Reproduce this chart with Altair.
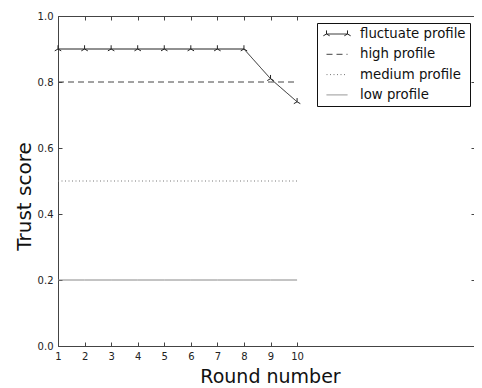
import altair as alt
import pandas as pd

rounds = [1, 2, 3, 4, 5, 6, 7, 8, 9, 10]
fluctuate = [0.9, 0.9, 0.9, 0.9, 0.9, 0.9, 0.9, 0.9, 0.81, 0.74]
high = [0.8, 0.8, 0.8, 0.8, 0.8, 0.8, 0.8, 0.8, 0.8, 0.8]
medium = [0.5, 0.5, 0.5, 0.5, 0.5, 0.5, 0.5, 0.5, 0.5, 0.5]
low = [0.2, 0.2, 0.2, 0.2, 0.2, 0.2, 0.2, 0.2, 0.2, 0.2]
series_names = ["fluctuate profile", "high profile", "medium profile", "low profile"]
x_ticks = [1, 2, 3, 4, 5, 6, 7, 8, 9, 10]
y_ticks = [0.0, 0.2, 0.4, 0.6, 0.8, 1.0]

rows = []
for name, vals in zip(series_names, [fluctuate, high, medium, low]):
    for r, v in zip(rounds, vals):
        rows.append({"round": r, "score": v, "series": name})
df = pd.DataFrame(rows)
df_f = df[df["series"] == "fluctuate profile"]

FONT = "DejaVu Sans"
AX = "#444444"

# x axis runs past round 10 (to the right edge of the picture)
xscale = alt.Scale(domain=[1, 16.66], nice=False, zero=False)
yscale = alt.Scale(domain=[0, 1], nice=False, zero=False)

tri = "M0,0L0,-1M0,0L-0.866,0.5M0,0L0.866,0.5"
end_markers = ("M-1,0L-1,-0.34M-1,0L-1.3,0.17M-1,0L-0.7,0.17"
               "M1,0L1,-0.34M1,0L0.7,0.17M1,0L1.3,0.17")

LEG = dict(title=None, orient="none", legendX=259, legendY=7, padding=4,
           cornerRadius=0, symbolSize=441, symbolStrokeWidth=1, symbolOffset=5,
           labelFont=FONT, labelFontSize=13.3, labelColor="#111111",
           labelOffset=12, clipHeight=14, rowPadding=6.3)

legend_main = alt.Legend(strokeColor="#111111", fillColor="white",
                         symbolType="stroke", **LEG)
legend_marks = alt.Legend(symbolType=end_markers, symbolStrokeColor="#222222",
                          symbolFillColor="transparent", labelOpacity=0, **LEG)


def tick_axis(**kw):
    base = dict(grid=False, labels=False, title=None, domain=False,
                tickColor=AX, tickWidth=1)
    base.update(kw)
    return alt.Axis(**base)


lines = alt.Chart(df).mark_line(strokeWidth=1).encode(
    x=alt.X("round:Q", scale=xscale, axis=alt.Axis(
        orient="bottom", values=x_ticks, format="d", title="Round number",
        grid=False, domain=True, domainColor=AX, ticks=False,
        labelPadding=5, labelFlush=False, labelFont=FONT,
        labelFontSize=10, labelColor="#222222", titleFont=FONT, titleFontSize=19,
        titleFontWeight="normal", titleColor="#111111", titleX=212, titleY=36,
        titleBaseline="alphabetic")),
    y=alt.Y("score:Q", scale=yscale, axis=alt.Axis(
        orient="left", values=y_ticks, format=".1f", title="Trust score",
        grid=False, domain=True, domainColor=AX, ticks=False,
        labelPadding=5, labelFont=FONT, labelFontSize=10,
        labelColor="#222222", titleFont=FONT, titleFontSize=20,
        titleFontWeight="normal", titleColor="#111111", titleX=-28, titleY=180,
        titleAngle=270, titleBaseline="alphabetic")),
    color=alt.Color("series:N", scale=alt.Scale(
        domain=series_names, range=["#222222", "#444444", "#777777", "#888888"]),
        legend=legend_main),
    strokeDash=alt.StrokeDash("series:N", scale=alt.Scale(
        domain=series_names, range=[[1, 0], [6, 4], [1, 2.5], [1, 0]]),
        legend=legend_main),
)

pts = alt.Chart(df_f).mark_point(
    shape=tri, filled=False, size=56, stroke="#222222", strokeWidth=1
).encode(
    x=alt.X("round:Q", scale=xscale, axis=tick_axis(
        orient="bottom", values=x_ticks, offset=-4, tickSize=4)),
    y=alt.Y("score:Q", scale=yscale, axis=tick_axis(
        orient="left", values=y_ticks, offset=-4, tickSize=4)),
    opacity=alt.Opacity("series:N", scale=alt.Scale(
        domain=["fluctuate profile"], range=[1]), legend=legend_marks),
)

frame_top = alt.Chart(df_f).mark_point(opacity=0).encode(
    x=alt.X("round:Q", scale=xscale, axis=tick_axis(
        orient="top", values=x_ticks, domain=True, domainColor=AX, ticks=False)),
    y=alt.Y("score:Q", scale=yscale, axis=tick_axis(
        orient="right", values=y_ticks, offset=-3, tickSize=3)),
)

ticks_top = alt.Chart(df_f).mark_point(opacity=0).encode(
    x=alt.X("round:Q", scale=xscale, axis=tick_axis(
        orient="top", values=x_ticks, offset=-4, tickSize=4)),
    y=alt.Y("score:Q", scale=yscale, axis=None),
)

chart = alt.layer(lines, pts, frame_top, ticks_top).resolve_axis(
    x="independent", y="independent"
).properties(
    width=416, height=330,
    padding={"left": 50, "top": 8, "right": 0, "bottom": 40},
    autosize=alt.AutoSizeParams(type="none"),
).configure_view(stroke=None)

chart.save("out.html", embed_options={"renderer": "svg", "actions": False})
